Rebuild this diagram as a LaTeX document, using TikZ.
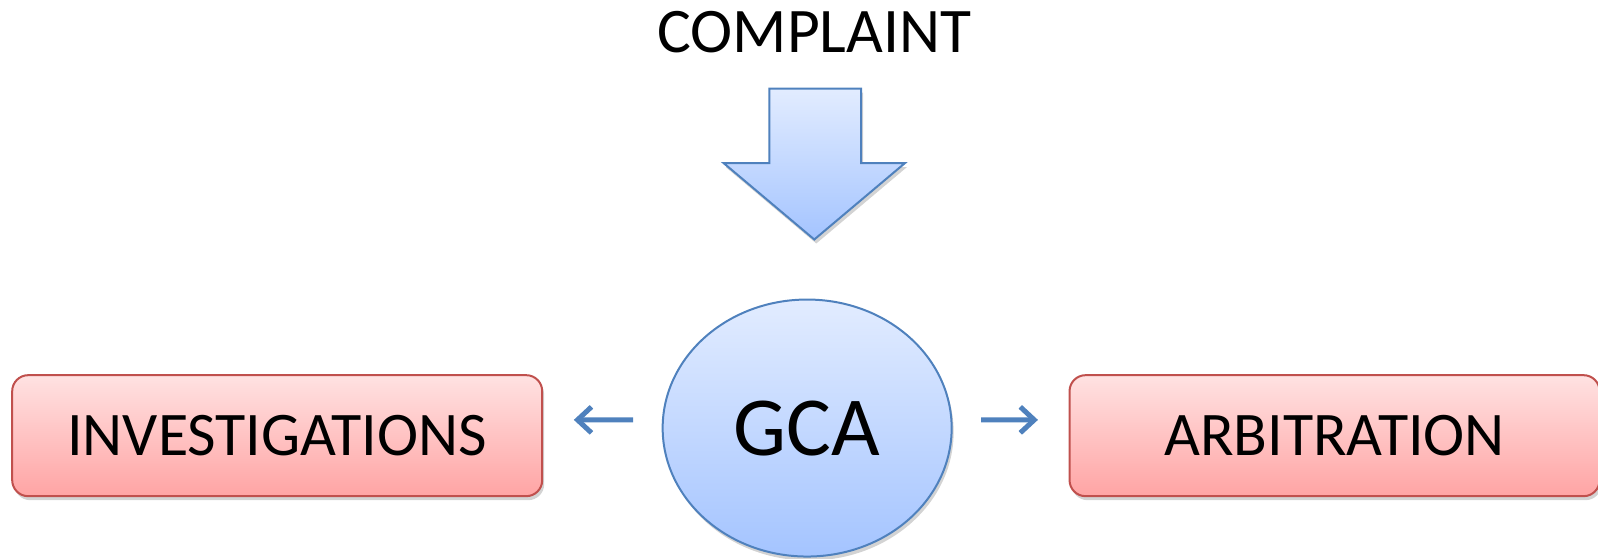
\documentclass[tikz,border=0pt]{standalone}
\usepackage{fontspec}
\setmainfont{Carlito}
\usepackage{tikz}
\usetikzlibrary{positioning}
\usetikzlibrary{shapes.geometric}
\usetikzlibrary{shadows}
\usetikzlibrary{arrows.meta}

\definecolor{rosa}{RGB}{255,226,226}
\definecolor{rosadunkel}{RGB}{255,164,164}
\definecolor{rotrand}{RGB}{192,80,77}
\definecolor{hellblau}{RGB}{226,236,255}
\definecolor{mittelblau}{RGB}{164,196,255}
\definecolor{blaurand}{RGB}{79,129,189}

\tikzset{
    schatten/.style={drop shadow={opacity=0.35, shadow xshift=2pt, shadow yshift=-4pt}},
    kasten/.style={draw=rotrand, line width=2pt, rounded corners=16pt,
        top color=rosa, bottom color=rosadunkel, schatten,
        minimum width=530pt, minimum height=121pt,
        font=\fontsize{62}{70}\selectfont},
    pfeil/.style={-{Straight Barb[length=14pt, width=26pt]}, blaurand, line width=5pt}
}

\begin{document}
\begin{tikzpicture}[x=1.0191pt, y=-1.0191pt]
    \useasboundingbox (0,0) rectangle (1568,548.5);
    \node (complaint) at (799,32) {\fontsize{63.5}{70}\selectfont COMPLAINT};
    % Blockpfeil
    \coordinate (spitze) at (799,235);
    \path[draw=blaurand, line width=2pt, top color=hellblau, bottom color=mittelblau, schatten]
        (755,87) -- (845,87) -- (845,160) -- (888,160) -- (spitze)
        -- (710,160) -- (755,160) -- cycle;
    \node[ellipse, draw=blaurand, line width=2pt, top color=hellblau,
        bottom color=mittelblau, schatten, minimum width=289pt,
        minimum height=257pt, font=\fontsize{84}{90}\selectfont] (gca) at (792,420) {GCA};
    \node[kasten] (invest) at (272,427.5) {INVESTIGATIONS};
    \node[kasten] (arbit) at (1309.5,427.5) {ARBITRATION};
    \draw[pfeil] ([xshift=-28.5pt, yshift=8.2pt]gca.west) -- ([xshift=30.6pt, yshift=15.8pt]invest.east);
    \draw[pfeil] ([xshift=28.5pt, yshift=8.2pt]gca.east) -- ([xshift=-30.6pt, yshift=15.8pt]arbit.west);
\end{tikzpicture}
\end{document}
